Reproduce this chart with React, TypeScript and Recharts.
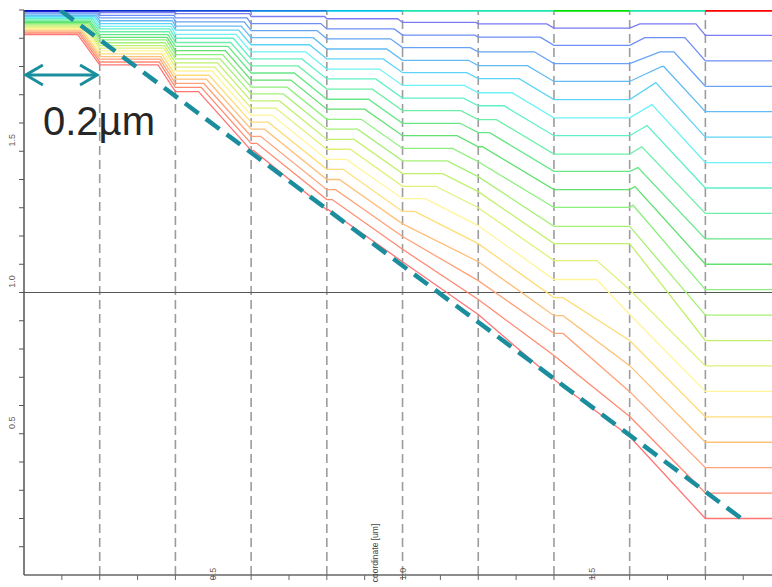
import { Line, LineChart, ReferenceLine, XAxis, YAxis } from 'recharts'

// dashed boundaries between the 0.2um blocks, plus the right edge of the view
const BOUNDS = [0, 0.2, 0.4, 0.6, 0.8, 1.0, 1.2, 1.4, 1.6, 1.8]
const X_END = 1.976

// profile levels per block, curves ordered top (blue, early) -> bottom (red, late)
const LEVEL_0 = [1.994, 1.99, 1.986, 1.981, 1.977, 1.973, 1.969, 1.964, 1.96, 1.956, 1.952, 1.947, 1.943, 1.939, 1.935, 1.93, 1.926, 1.922, 1.918, 1.913]
const BREAK_0 = [0.199, 0.196, 0.193, 0.19, 0.187, 0.184, 0.181, 0.178, 0.175, 0.172, 0.169, 0.166, 0.163, 0.16, 0.157, 0.154, 0.151, 0.148, 0.145, 0.142]
const LEVEL_1 = [1.991, 1.981, 1.972, 1.962, 1.952, 1.942, 1.933, 1.923, 1.913, 1.903, 1.894, 1.884, 1.874, 1.865, 1.855, 1.845, 1.835, 1.826, 1.816, 1.806]
const BREAK_1 = [0.399, 0.397, 0.395, 0.392, 0.39, 0.388, 0.385, 0.383, 0.38, 0.378, 0.376, 0.373, 0.371, 0.369, 0.366, 0.364, 0.361, 0.359, 0.357, 0.354]
const LEVEL_2 = [1.987, 1.972, 1.958, 1.943, 1.929, 1.914, 1.9, 1.885, 1.871, 1.856, 1.842, 1.827, 1.813, 1.798, 1.784, 1.769, 1.755, 1.74, 1.726, 1.711]
const BREAK_2 = [0.596, 0.589, 0.582, 0.574, 0.567, 0.56, 0.553, 0.546, 0.539, 0.532, 0.525, 0.518, 0.511, 0.504, 0.497, 0.489, 0.482, 0.475, 0.468, 0.461]
const LEVEL_3 = [1.977, 1.952, 1.927, 1.902, 1.877, 1.852, 1.827, 1.802, 1.777, 1.752, 1.727, 1.703, 1.678, 1.653, 1.628, 1.603, 1.578, 1.553, 1.528, 1.503]
const BREAK_3 = [0.794, 0.784, 0.774, 0.764, 0.754, 0.744, 0.734, 0.724, 0.714, 0.705, 0.695, 0.685, 0.675, 0.665, 0.655, 0.645, 0.635, 0.625, 0.615, 0.606]
const LEVEL_4 = [1.969, 1.933, 1.898, 1.862, 1.827, 1.791, 1.756, 1.72, 1.684, 1.649, 1.613, 1.578, 1.542, 1.507, 1.471, 1.436, 1.4, 1.364, 1.329, 1.293]
const BREAK_4 = [0.987, 0.978, 0.968, 0.958, 0.949, 0.939, 0.929, 0.92, 0.91, 0.9, 0.891, 0.881, 0.872, 0.862, 0.852, 0.843, 0.833, 0.823, 0.814, 0.804]
const LEVEL_5 = [1.956, 1.911, 1.867, 1.822, 1.778, 1.733, 1.688, 1.644, 1.599, 1.555, 1.51, 1.466, 1.421, 1.376, 1.332, 1.287, 1.243, 1.198, 1.153, 1.109]
const BREAK_5 = [1.194, 1.191, 1.179, 1.174, 1.17, 1.163, 1.161, 1.154, 1.152, 1.144, 1.132, 1.118, 1.106, 1.088, 1.06, 1.032, null, null, null, null]
const LEVEL_6 = [1.951, 1.904, 1.852, 1.803, 1.757, 1.707, 1.661, 1.612, 1.566, 1.516, 1.463, 1.41, 1.357, 1.3, 1.237, 1.173, 1.109, 1.042, 0.975, 0.922]
const BREAK_6 = [1.381, 1.364, 1.348, 1.33, 1.308, 1.289, 1.268, 1.248, 1.23, 1.211, null, null, null, null, null, null, null, null, null, null]
const LEVEL_7 = [1.936, 1.875, 1.81, 1.747, 1.683, 1.618, 1.555, 1.49, 1.429, 1.364, 1.301, 1.234, 1.173, 1.113, 1.046, 0.982, 0.918, 0.855, 0.777, 0.692]
const BREAK_7 = [1.6, 1.6, 1.6, 1.6, 1.6, 1.6, 1.6, 1.6, 1.6, 1.6, 1.6, 1.6, 1.6, 1.513, 1.513, 1.424, 1.424, 1.424, null, null]
const LEVEL_8 = [1.936, 1.875, 1.81, 1.747, 1.683, 1.618, 1.555, 1.49, 1.429, 1.364, 1.301, 1.234, 1.173, 1.01, 0.922, 0.83, 0.741, 0.649, 0.561, 0.49]
const BUMP_X = [1.627, 1.64, 1.68, 1.685, 1.669, 1.659, 1.646, 1.632, 1.622, 1.614, 1.609, null, null, null, null, null, null, null, null, null]
const BUMP_Y = [1.951, 1.902, 1.852, 1.8, 1.743, 1.665, 1.591, 1.516, 1.442, 1.375, 1.309, null, null, null, null, null, null, null, null, null]
const BREAK_8 = [1.775, 1.746, 1.717, 1.69, 1.669, 1.659, 1.646, 1.632, 1.622, 1.614, 1.609, null, null, null, null, null, null, null, null, null]
const LEVEL_9 = [1.91, 1.82, 1.73, 1.64, 1.55, 1.46, 1.37, 1.28, 1.19, 1.1, 1.01, 0.92, 0.83, 0.74, 0.65, 0.56, 0.47, 0.38, 0.29, 0.2]

// initial surface (material blocks on top)
const SURFACE_Y = 2.0
const SURFACE_COLORS = ['#0008c0', '#0a2cc8', '#1048d8', '#0a84e0', '#00c4e8', '#1ee6b0', '#1ee6b0', '#00e000', '#1ee6b0', '#ff0000']

// annotation
const DIAG_X = [0.095, 1.9]
const DIAG_Y = [2.0, 0.195]
const ARROW_X = [0.005, 0.193]
const ARROW_Y = 1.77

const X_TICKS = [0.1, 0.2, 0.3, 0.4, 0.5, 0.6, 0.7, 0.8, 0.9, 1.0, 1.1, 1.2, 1.3, 1.4, 1.5, 1.6, 1.7, 1.8, 1.9]
const Y_TICKS = [0.1, 0.2, 0.3, 0.4, 0.5, 0.6, 0.7, 0.8, 0.9, 1.0, 1.1, 1.2, 1.3, 1.4, 1.5, 1.6, 1.7, 1.8, 1.9, 2.0]
const LABELLED = [0.5, 1.0, 1.5]

const CURVE_COLORS = [
  '#7b7bf5', '#6e8ef5', '#67a4f5', '#62bbf5', '#5fd3f7', '#6ef2f5', '#5ff0c8', '#6cf0a8', '#66e888', '#62e070',
  '#8cf07c', '#a6f076', '#c2f06c', '#e2f07a', '#fff59a', '#ffdc78', '#ffc07a', '#ffa27a', '#ff8a70', '#ff7474',
]

const LEVELS = [LEVEL_0, LEVEL_1, LEVEL_2, LEVEL_3, LEVEL_4, LEVEL_5, LEVEL_6, LEVEL_7, LEVEL_8]
const BREAKS = [BREAK_0, BREAK_1, BREAK_2, BREAK_3, BREAK_4, BREAK_5, BREAK_6, BREAK_7]

type Pt = { x: number; y: number }

function buildCurve(j: number): Pt[] {
  const pts: Pt[] = [{ x: 0, y: LEVEL_0[j] }]
  for (let s = 0; s < 8; s++) {
    const b = BREAKS[s][j]
    if (b != null) pts.push({ x: b, y: LEVELS[s][j] })
    pts.push({ x: BOUNDS[s + 1], y: LEVELS[s + 1][j] })
  }
  const bx = BUMP_X[j]
  const by = BUMP_Y[j]
  const b8 = BREAK_8[j]
  if (bx != null && by != null && b8 != null) {
    pts.push({ x: bx, y: by })
    pts.push({ x: b8, y: by })
  }
  pts.push({ x: 1.8, y: LEVEL_9[j] })
  pts.push({ x: X_END, y: LEVEL_9[j] })
  return pts
}

const curves = LEVEL_0.map((_, j) => buildCurve(j))
const surface = SURFACE_COLORS.map((c, i) => ({
  color: c,
  data: [
    { x: BOUNDS[i], y: SURFACE_Y },
    { x: i + 1 < BOUNDS.length ? BOUNDS[i + 1] : X_END, y: SURFACE_Y },
  ],
}))
const diagonal = DIAG_X.map((x, i) => ({ x, y: DIAG_Y[i] }))
const arrow = ARROW_X.map((x) => ({ x, y: ARROW_Y }))

const TEAL = '#1b8e9e'
const FONT = '"Liberation Sans", Arial, sans-serif'

function XTick(props: any) {
  const { x, y, payload } = props
  if (!LABELLED.some((v) => Math.abs(v - payload.value) < 1e-6)) return <g />
  return (
    <text
      transform={`translate(${x},${y - 6}) rotate(-90)`}
      textAnchor="middle"
      dominantBaseline="central"
      fontSize={9}
      fontFamily={FONT}
      fill="#6b5a50"
    >
      {payload.value.toFixed(1)}
    </text>
  )
}

function YTick(props: any) {
  const { y, payload } = props
  if (!LABELLED.some((v) => Math.abs(v - payload.value) < 1e-6)) return <g />
  return (
    <text
      transform={`translate(12,${y - 11}) rotate(-90)`}
      textAnchor="middle"
      dominantBaseline="central"
      fontSize={9}
      fontFamily={FONT}
      fill="#6b5a50"
    >
      {payload.value.toFixed(1)}
    </text>
  )
}

function ArrowHead(props: any) {
  const { cx, cy, index } = props
  const d = index === 0 ? 17 : -17
  return (
    <polyline
      key={`ah-${index}`}
      points={`${cx + d},${cy - 10} ${cx},${cy} ${cx + d},${cy + 10}`}
      fill="none"
      stroke={TEAL}
      strokeWidth={3}
    />
  )
}

export default function App() {
  return (
    <div style={{ position: 'absolute', left: 0, top: 0, width: 772, height: 587, background: '#fff' }}>
      <LineChart width={772} height={587} margin={{ top: 10, right: 0, bottom: 0, left: 0 }}>
        <XAxis
          type="number"
          dataKey="x"
          domain={[0, X_END]}
          ticks={X_TICKS}
          interval={0}
          height={12}
          tickSize={5}
          tickMargin={0}
          axisLine={{ stroke: '#666', strokeWidth: 1.5 }}
          tickLine={{ stroke: '#666' }}
          tick={<XTick />}
          allowDataOverflow
        />
        <YAxis
          type="number"
          dataKey="y"
          domain={[0, 2]}
          ticks={Y_TICKS}
          interval={0}
          width={24}
          tickSize={5}
          tickMargin={0}
          axisLine={{ stroke: '#555', strokeWidth: 1.5 }}
          tickLine={{ stroke: '#555' }}
          tick={<YTick />}
          allowDataOverflow
        />
        {BOUNDS.slice(1).map((b) => (
          <ReferenceLine key={`v${b}`} x={b} stroke="#9c9c9c" strokeWidth={1.6} strokeDasharray="9 5" />
        ))}
        <ReferenceLine y={1} stroke="#555" strokeWidth={1} />
        {curves.map((pts, j) => (
          <Line
            key={`c${j}`}
            data={pts}
            dataKey="y"
            type="linear"
            stroke={CURVE_COLORS[j]}
            strokeWidth={1.3}
            dot={false}
            isAnimationActive={false}
          />
        ))}
        {surface.map((s, i) => (
          <Line
            key={`s${i}`}
            data={s.data}
            dataKey="y"
            type="linear"
            stroke={s.color}
            strokeWidth={3.5}
            dot={false}
            isAnimationActive={false}
          />
        ))}
        <Line
          data={diagonal}
          dataKey="y"
          type="linear"
          stroke={TEAL}
          strokeWidth={4.5}
          strokeDasharray="17 9"
          dot={false}
          isAnimationActive={false}
        />
        <Line
          data={arrow}
          dataKey="y"
          type="linear"
          stroke={TEAL}
          strokeWidth={3}
          dot={<ArrowHead />}
          isAnimationActive={false}
        />
      </LineChart>
      <svg
        width={772}
        height={587}
        style={{ position: 'absolute', left: 0, top: 0, pointerEvents: 'none' }}
      >
        <text x={43} y={135} fontSize={40} fontFamily={FONT} fill="#262626">
          0.2µm
        </text>
        <text
          transform="translate(375,553) rotate(-90)"
          textAnchor="middle"
          dominantBaseline="central"
          fontSize={8.5}
          fontFamily={FONT}
          fill="#444"
        >
          coordinate [um]
        </text>
      </svg>
    </div>
  )
}
